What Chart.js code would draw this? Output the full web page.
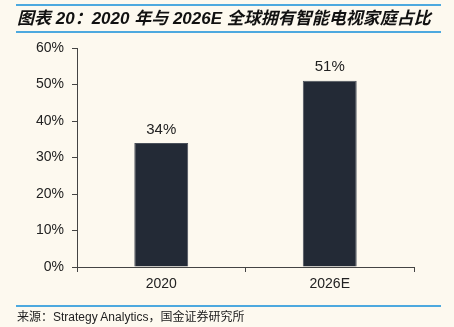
<!DOCTYPE html>
<html>
<head>
<meta charset="utf-8">
<script src="https://cdn.jsdelivr.net/npm/chart.js@4.4.1/dist/chart.umd.min.js"></script>
<style>
  html, body { margin: 0; padding: 0; background: #FDF9EF; }
  body { width: 454px; height: 327px; position: relative; overflow: hidden; }
  #title {
    position: absolute; left: 16px; top: 4px; width: 424px; height: 25px;
    border-top: 2px solid #4DA9DF; border-bottom: 2px solid #4DA9DF;
    font-family: "Liberation Sans", "Noto Sans CJK SC", sans-serif;
    font-weight: bold; font-style: italic; font-size: 17px; line-height: 25px;
    color: #111; white-space: nowrap; padding-left: 1px; box-sizing: content-box;
  }
  #source {
    position: absolute; left: 16px; top: 305px; width: 424px;
    border-top: 2px solid #4DA9DF;
    font-family: "Liberation Sans", "Noto Sans CJK SC", sans-serif;
    font-size: 12px; line-height: 20px; color: #222; white-space: nowrap; padding-left: 1px;
  }
  #wrap { position: absolute; left: 0; top: 0; width: 454px; height: 327px; }
</style>
</head>
<body>
<div id="wrap"><canvas id="c" width="454" height="327"></canvas></div>
<div id="title">图表 20：2020 年与 2026E 全球拥有智能电视家庭占比</div>
<div id="source">来源：Strategy Analytics，国金证券研究所</div>
<script>
const categories = ["2020", "2026E"];
const shareValues = [34, 51];
const yTickMax = 60;
const yTickStep = 10;

const labelPlugin = {
  id: 'barLabels',
  afterDatasetsDraw(chart) {
    const ctx = chart.ctx;
    const meta = chart.getDatasetMeta(0);
    ctx.save();
    ctx.font = '15px "Liberation Sans", Arial, sans-serif';
    ctx.fillStyle = '#222';
    ctx.textAlign = 'center';
    ctx.textBaseline = 'bottom';
    meta.data.forEach((bar, i) => {
      ctx.fillText(chart.data.datasets[0].data[i] + '%', bar.x, bar.y - 6);
    });
    ctx.restore();
  }
};

new Chart(document.getElementById('c'), {
  type: 'bar',
  data: {
    labels: categories,
    datasets: [{
      data: shareValues,
      backgroundColor: '#232A36',
      borderColor: '#4a505a',
      borderWidth: 1,
      barPercentage: 0.32,
      categoryPercentage: 1.0
    }]
  },
  options: {
    responsive: false,
    animation: false,
    devicePixelRatio: 1,
    layout: { padding: { left: 0, right: 40, top: 48, bottom: 0 } },
    plugins: { legend: { display: false }, tooltip: { enabled: false } },
    scales: {
      x: {
        offset: true,
        grid: { display: true, offset: true, drawOnChartArea: false, tickLength: 5, color: '#444', lineWidth: 1 },
        border: { display: true, color: '#444', width: 1 },
        ticks: { color: '#222', font: { family: '"Liberation Sans", Arial, sans-serif', size: 14 }, padding: 4 },
        afterFit(s) { s.height = 60; }
      },
      y: {
        min: 0, max: yTickMax,
        grid: { display: true, drawOnChartArea: false, tickLength: 5, color: '#444', lineWidth: 1 },
        border: { display: true, color: '#444', width: 1 },
        ticks: {
          stepSize: yTickStep,
          color: '#222',
          font: { family: '"Liberation Sans", Arial, sans-serif', size: 14 },
          padding: 8,
          callback: v => v + '%'
        },
        afterFit(s) { s.width = 77; }
      }
    }
  },
  plugins: [labelPlugin]
});
</script>
</body>
</html>
